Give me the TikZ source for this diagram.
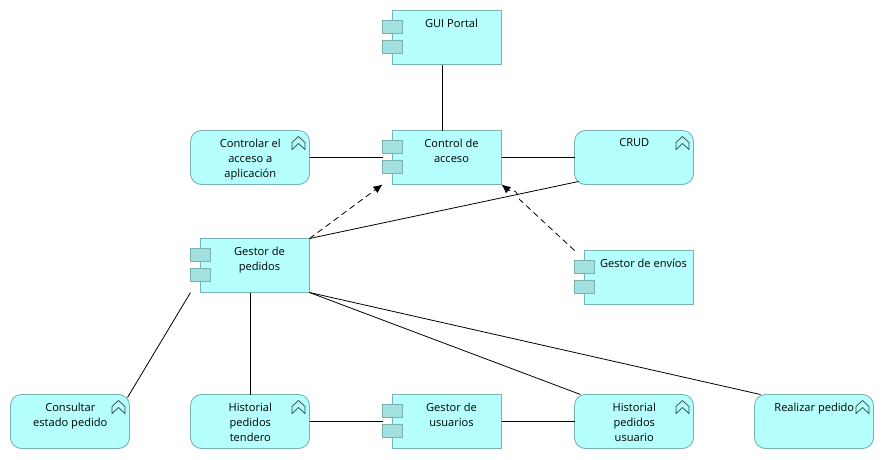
\documentclass[tikz,border=0pt]{standalone}
\usepackage{fontspec}
\setmainfont{Open Sans}
\usetikzlibrary{arrows.meta,calc}
\definecolor{fillc}{RGB}{181,255,255}
\definecolor{edgec}{RGB}{120,178,178}
\definecolor{portc}{RGB}{163,224,224}
\definecolor{iconc}{RGB}{50,70,70}
\tikzset{
  x=1pt,y=-1pt,
  elem/.style={minimum width=119pt,minimum height=54pt,inner sep=0pt,outer sep=0pt},
  bodyshape/.style={draw=edgec,fill=fillc,line width=0.9pt},
  lbl/.style={font=\fontsize{11.1}{15}\selectfont,align=center,inner sep=0pt,text=black},
  conn/.style={draw=black,line width=0.8pt},
  dep/.style={draw=black,line width=0.8pt,dash pattern=on 6pt off 4pt,-{Latex[length=9pt,width=8pt]}}
}
\newcommand{\compnode}[4]{%
  \node[elem,anchor=north west] (#1) at (#2,#3) {};
  \draw[bodyshape] ($(#1.north west)+(10,0)$) rectangle (#1.south east);
  \draw[bodyshape,fill=portc] ($(#1.north west)+(0,10)$) rectangle ($(#1.north west)+(20,23)$);
  \draw[bodyshape,fill=portc] ($(#1.north west)+(0,30)$) rectangle ($(#1.north west)+(20,43)$);
  \node[lbl,anchor=north] (#1-t) at ($(#1.north west)+(69,8.2)$) {#4};
}
\newcommand{\funcnode}[4]{%
  \node[elem,anchor=north west,bodyshape,rounded corners=11pt] (#1) at (#2,#3) {};
  \draw[draw=iconc,line width=0.7pt,line join=miter] ($(#1.north east)+(-17.5,19)$) -- ($(#1.north east)+(-17.5,12)$) -- ($(#1.north east)+(-11,6)$) -- ($(#1.north east)+(-4.5,12)$) -- ($(#1.north east)+(-4.5,19)$) -- ($(#1.north east)+(-11,13)$) -- cycle;
  \node[lbl,anchor=north] (#1-t) at ($(#1.north)+(0.3,8.2)$) {#4};
}
\begin{document}
\begin{tikzpicture}
\useasboundingbox (0,0) rectangle (884,459);
\fill[white] (0,0) rectangle (884,459);
\compnode{gui}{382.5}{10.5}{GUI Portal}
\compnode{ctrl}{382.5}{130.5}{Control de\\acceso}
\compnode{gped}{190.5}{238.5}{Gestor de\\pedidos}
\compnode{genv}{574.5}{250.5}{Gestor de envíos}
\compnode{gusr}{382.5}{394.5}{Gestor de\\usuarios}
\funcnode{cacc}{190.5}{130.5}{Controlar el\\acceso a\\aplicación}
\funcnode{crud}{574.5}{130.5}{CRUD}
\funcnode{cons}{10.5}{394.5}{Consultar\\estado pedido}
\funcnode{htend}{190.5}{394.5}{Historial\\pedidos\\tendero}
\funcnode{husr}{574.5}{394.5}{Historial\\pedidos\\usuario}
\funcnode{real}{754.5}{394.5}{Realizar pedido}
\coordinate (hopA) at (518,198);
\coordinate (hopB) at (509,190.5);
\draw[conn] (gui.south) -- (ctrl.north);
\draw[conn] (cacc.east) -- (ctrl.west);
\draw[conn] (ctrl.east) -- (crud.west);
\draw[conn] (gped.north east) -- ($(crud.south west)+(4,-3)$);
\draw[conn] (gped.south) -- (htend.north);
\draw[conn] (gped.south west) -- ($(cons.north east)+(-2,3)$);
\draw[conn] (htend.east) -- (gusr.west);
\draw[conn] (gusr.east) -- (husr.west);
\draw[conn] (gped.south east) -- ($(husr.north west)+(6,0)$);
\draw[conn] (gped.south east) -- ($(real.north west)+(6,0)$);
\draw[dep] (gped.north east) -- (ctrl.south west);
\draw[dep] (genv.north west) -- (hopA) .. controls (519,193) and (514,189) .. (hopB) -- (ctrl.south east);
\end{tikzpicture}
\end{document}
